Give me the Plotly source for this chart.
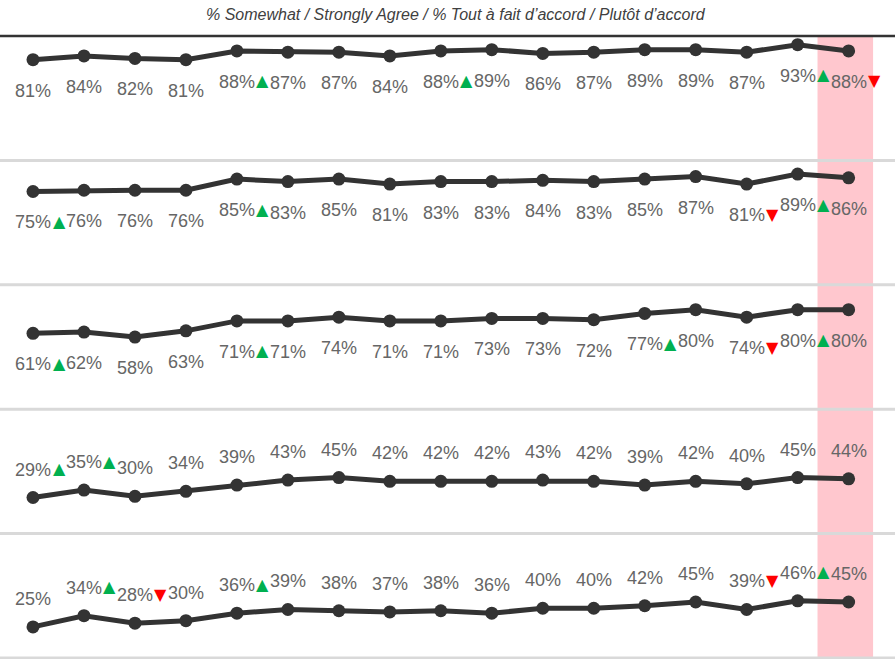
import plotly.graph_objects as go
from plotly.subplots import make_subplots

waves = list(range(17))

row1 = [81, 84, 82, 81, 88, 87, 87, 84, 88, 89, 86, 87, 89, 89, 87, 93, 88]
row2 = [75, 76, 76, 76, 85, 83, 85, 81, 83, 83, 84, 83, 85, 87, 81, 89, 86]
row3 = [61, 62, 58, 63, 71, 71, 74, 71, 71, 73, 73, 72, 77, 80, 74, 80, 80]
row4 = [29, 35, 30, 34, 39, 43, 45, 42, 42, 42, 43, 42, 39, 42, 40, 45, 44]
row5 = [25, 34, 28, 30, 36, 39, 38, 37, 38, 36, 40, 40, 42, 45, 39, 46, 45]

sig1 = ["", "", "", "", "up", "", "", "", "up", "", "", "", "", "", "", "up", "down"]
sig2 = ["up", "", "", "", "up", "", "", "", "", "", "", "", "", "", "down", "up", ""]
sig3 = ["up", "", "", "", "up", "", "", "", "", "", "", "", "up", "", "down", "up", ""]
sig4 = ["up", "up", "", "", "", "", "", "", "", "", "", "", "", "", "", "", ""]
sig5 = ["", "up", "down", "", "up", "", "", "", "", "", "", "", "", "", "down", "up", ""]

rows = [row1, row2, row3, row4, row5]
sigs = [sig1, sig2, sig3, sig4, sig5]
label_below = [True, True, True, False, False]

title_text = "% Somewhat / Strongly Agree / % Tout à fait d\u2019accord / Plutôt d\u2019accord"

fig = make_subplots(rows=5, cols=1, shared_xaxes=True, vertical_spacing=0)

annotations = []
for r, (vals, sg, below) in enumerate(zip(rows, sigs, label_below), start=1):
    fig.add_trace(
        go.Scatter(
            x=waves, y=vals, mode="lines+markers",
            line=dict(color="#333333", width=5),
            marker=dict(color="#333333", size=13),
            hoverinfo="skip", showlegend=False,
        ),
        row=r, col=1,
    )
    yref = "y" if r == 1 else f"y{r}"
    xref = "x" if r == 1 else f"x{r}"
    ysh = -31 if below else 28
    for xi, v, s in zip(waves, vals, sg):
        annotations.append(dict(
            x=xi, y=v, xref=xref, yref=yref, text=f"{v}%", showarrow=False,
            yshift=ysh, font=dict(family="Liberation Sans, Arial", size=18, color="#666666"),
        ))
        if s:
            annotations.append(dict(
                x=xi, y=v, xref=xref, yref=yref,
                text="▲" if s == "up" else "▼", showarrow=False,
                xshift=26, yshift=ysh + 1,
                font=dict(family="DejaVu Sans", size=16,
                          color="#00B050" if s == "up" else "#FF0000"),
            ))

annotations.append(dict(
    x=0.5095, y=1, xref="paper", yref="paper", yanchor="bottom", yshift=11,
    text=f"<i>{title_text}</i>", showarrow=False,
    font=dict(family="Liberation Sans, Arial", size=16, color="#404040"),
))

shapes = [
    dict(type="rect", xref="x", yref="paper", x0=15.39, x1=16.48, y0=0, y1=1,
         fillcolor="#FFC7CE", line=dict(width=0), layer="below"),
]
for k in range(1, 6):
    yb = 1 - k / 5
    shapes.append(dict(type="line", xref="paper", yref="paper", x0=0, x1=1, y0=yb, y1=yb,
                       line=dict(color="#D9D9D9", width=3), layer="below"))
shapes.append(dict(type="line", xref="paper", yref="paper", x0=0, x1=1, y0=1, y1=1,
                   line=dict(color="#333333", width=2.5)))

for r in range(1, 6):
    fig.update_yaxes(range=[0, 100], visible=False, row=r, col=1)
    fig.update_xaxes(range=[-0.6475, 16.91], visible=False, row=r, col=1)

fig.update_layout(
    width=895, height=659,
    margin=dict(l=0, r=0, t=36, b=1),
    plot_bgcolor="white", paper_bgcolor="white",
    annotations=annotations, shapes=shapes,
    showlegend=False,
)

fig.write_html(
    "out.html",
    config={"displayModeBar": False},
    post_script="document.body.style.margin='0';document.body.style.padding='0';document.body.style.overflow='hidden';",
)
